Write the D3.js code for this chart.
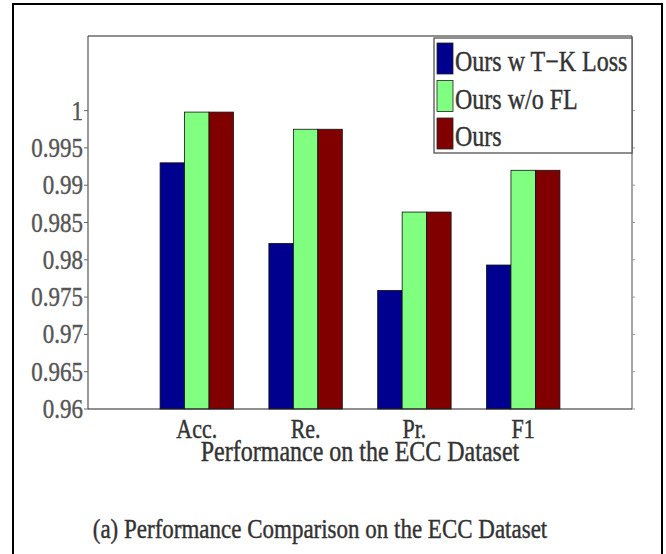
<!DOCTYPE html>
<html>
<head>
<meta charset="utf-8">
<script src="https://cdn.jsdelivr.net/npm/d3@7"></script>
<style>
  body { margin: 0; background: #fff; }
  text { font-family: "Liberation Serif", "Times New Roman", serif; }
</style>
</head>
<body>
<div id="chart"></div>
<script>
// values
const categories = ['Acc.', 'Re.', 'Pr.', 'F1'];
const seriesNames = ['Ours w T\u2212K Loss', 'Ours w/o FL', 'Ours'];
const tkLoss = [0.9930, 0.9822, 0.9759, 0.9793];
const woFL = [0.9998, 0.9975, 0.9864, 0.9920];
const ours = [0.9998, 0.9975, 0.9864, 0.9920];
const yTicks = [0.96, 0.965, 0.97, 0.975, 0.98, 0.985, 0.99, 0.995, 1];
const colors = ['#00008f', '#80ff80', '#800000'];

const W = 666, H = 554;
const margin = { top: 36, right: 34, bottom: 145, left: 88 };
const width = W - margin.left - margin.right;
const height = H - margin.top - margin.bottom;
const stretch = 1.2; // the figure text is squeezed horizontally

const svg = d3.select('#chart').append('svg')
  .attr('width', W)
  .attr('height', H);

// outer frame of the figure
svg.append('rect')
  .attr('x', 13).attr('y', 4)
  .attr('width', 649).attr('height', 560)
  .attr('fill', 'none')
  .attr('stroke', '#000')
  .attr('stroke-width', 2);

const g = svg.append('g')
  .attr('transform', `translate(${margin.left},${margin.top})`);

const x = d3.scaleLinear().domain([0, 5]).range([0, width]);
const y = d3.scaleLinear().domain([0.96, 1.01]).range([height, 0]);

const groupW = x(0.675) - x(0);
const inner = d3.scaleBand().domain(d3.range(seriesNames.length)).range([0, groupW]);

function label(sel, tx, ty, str, size, anchor, fill, sy) {
  return sel.append('text')
    .attr('transform', `translate(${tx},${ty}) scale(1,${sy || stretch})`)
    .attr('text-anchor', anchor)
    .attr('font-size', size)
    .attr('fill', fill)
    .attr('stroke', fill)
    .attr('stroke-width', 0.35)
    .text(str);
}

// bars
const values = [tkLoss, woFL, ours];
values.forEach((vals, s) => {
  g.selectAll('.bar' + s)
    .data(vals)
    .enter()
    .append('rect')
    .attr('class', 'bar' + s)
    .attr('x', (d, i) => x(i + 1) - groupW / 2 + inner(s))
    .attr('y', d => y(d))
    .attr('width', inner.bandwidth())
    .attr('height', d => height - y(d))
    .attr('fill', colors[s])
    .attr('stroke', '#111')
    .attr('stroke-width', 0.8);
});

// box
g.append('line').attr('x1', 0).attr('x2', 0).attr('y1', 0).attr('y2', height)
  .attr('stroke', '#777').attr('stroke-width', 1.5);
g.append('line').attr('x1', width).attr('x2', width).attr('y1', 0).attr('y2', height)
  .attr('stroke', '#888').attr('stroke-width', 1.5);
g.append('line').attr('x1', 0).attr('x2', width).attr('y1', 0).attr('y2', 0)
  .attr('stroke', '#222').attr('stroke-width', 1.2);
g.append('line').attr('x1', 0).attr('x2', width).attr('y1', height).attr('y2', height)
  .attr('stroke', '#222').attr('stroke-width', 1.2);

// y ticks
yTicks.forEach(t => {
  g.append('line').attr('x1', -4).attr('x2', 0).attr('y1', y(t)).attr('y2', y(t))
    .attr('stroke', '#666');
  g.append('line').attr('x1', width).attr('x2', width + 3).attr('y1', y(t)).attr('y2', y(t))
    .attr('stroke', '#999');
  label(g, -5, y(t) + 9, d3.format('')(t), 23, 'end', '#555');
});

// x labels
categories.forEach((c, i) => {
  label(g, x(i + 1), height + 29, c, 22, 'middle', '#333');
});
label(g, width / 2, height + 52, 'Performance on the ECC Dataset', 24, 'middle', '#333');

// legend
const lg = svg.append('g').attr('transform', 'translate(434,38)');
lg.append('rect')
  .attr('width', 198).attr('height', 115)
  .attr('fill', '#fff')
  .attr('stroke', '#444')
  .attr('stroke-width', 1.2);
seriesNames.forEach((n, s) => {
  lg.append('rect')
    .attr('x', 3).attr('y', 5 + s * 37.5)
    .attr('width', 16).attr('height', 31)
    .attr('fill', colors[s])
    .attr('stroke', '#222')
    .attr('stroke-width', 0.8);
  label(lg, 21, 33 + s * 37.5, n, 24, 'start', '#333');
});

// caption
label(svg, 320, 538, '(a) Performance Comparison on the ECC Dataset', 23, 'middle', '#333', 1.18);
</script>
</body>
</html>
